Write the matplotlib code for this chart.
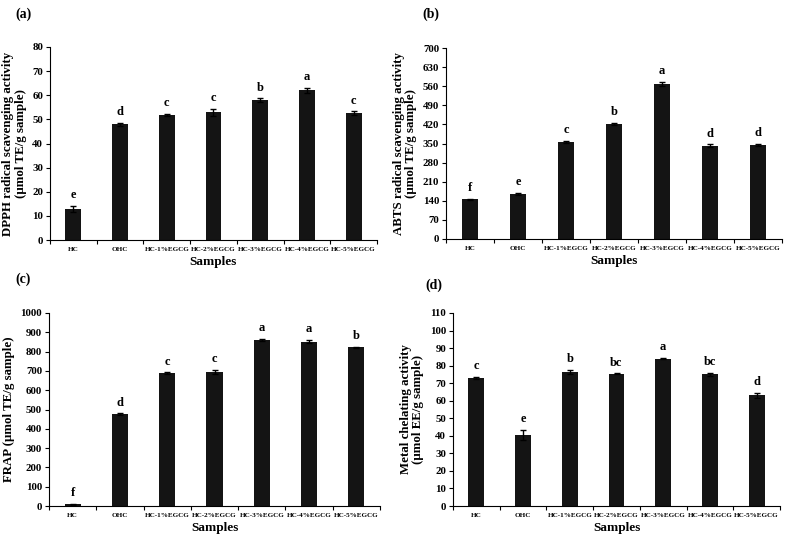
import matplotlib
matplotlib.use("Agg")
import matplotlib.pyplot as plt
import numpy as np

plt.rcParams['font.family'] = ['Liberation Serif', 'DejaVu Serif']
plt.rcParams['font.weight'] = 'bold'

samples = ["HC", "OHC", "HC-1%EGCG", "HC-2%EGCG", "HC-3%EGCG", "HC-4%EGCG", "HC-5%EGCG"]

dpph = [12.8, 48.0, 52.0, 53.0, 58.0, 62.0, 52.5]
dpph_err = [1.2, 0.6, 0.4, 1.5, 0.7, 1.0, 0.8]
dpph_letters = ["e", "d", "c", "c", "b", "a", "c"]

abts = [145, 165, 355, 422, 568, 342, 345]
abts_err = [3, 3, 4, 4, 7, 5, 5]
abts_letters = ["f", "e", "c", "b", "a", "d", "d"]

frap = [8, 476, 688, 693, 860, 852, 822]
frap_err = [2, 4, 4, 10, 7, 7, 3]
frap_letters = ["f", "d", "c", "c", "a", "a", "b"]

metal = [73.0, 40.5, 76.5, 75.3, 84.0, 75.0, 63.0]
metal_err = [0.6, 3.0, 1.0, 0.3, 0.4, 0.7, 1.5]
metal_letters = ["c", "e", "b", "bc", "a", "bc", "d"]

W, H = 787, 537
fig = plt.figure(figsize=(W / 100, H / 100), dpi=100)

def ax_rect(x0, y0, x1, y1):
    return [x0 / W, 1 - y1 / H, (x1 - x0) / W, (y1 - y0) / H]

panels = [
    (ax_rect(50, 47, 377, 240), dpph, dpph_err, dpph_letters, 80, 10,
     "DPPH radical scavenging activity\n(µmol TE/g sample)", "(a)", (15, 14)),
    (ax_rect(446, 48, 782, 239), abts, abts_err, abts_letters, 700, 70,
     "ABTS radical scavenging activity\n(µmol TE/g sample)", "(b)", (422, 14)),
    (ax_rect(49, 313, 380, 506), frap, frap_err, frap_letters, 1000, 100,
     "FRAP (µmol TE/g sample)", "(c)", (15, 279)),
    (ax_rect(453, 313, 780, 506), metal, metal_err, metal_letters, 110, 10,
     "Metal chelating activity\n(µmol EE/g sample)", "(d)", (425, 285)),
]

for rect, vals, errs, letters, ymax, step, ylabel, tag, tagpos in panels:
    ax = fig.add_axes(rect)
    x = np.arange(len(samples))
    ax.bar(x, vals, width=0.34, color="#141414", yerr=errs,
           error_kw=dict(ecolor="black", elinewidth=1.0, capsize=2.5, capthick=1.0))
    for xi, v, e, l in zip(x, vals, errs, letters):
        ax.text(xi, v + e + ymax * 0.025, l, ha="center", va="bottom",
                fontsize=9, fontweight="bold")
    ax.set_xlim(-0.5, len(samples) - 0.5)
    ax.set_ylim(0, ymax)
    ax.set_yticks(np.arange(0, ymax + step / 2, step))
    ax.set_xticks(x)
    ax.set_xticklabels(samples, fontsize=5.1, fontweight="bold")
    ax.set_xticks(np.arange(-0.5, len(samples), 1.0), minor=True)
    ax.tick_params(axis="x", which="major", length=0, pad=5)
    ax.tick_params(axis="x", which="minor", length=3, width=0.8, direction="out")
    ax.tick_params(axis="y", labelsize=7.8, length=3, width=0.8, direction="out", pad=2)
    for lbl in ax.get_yticklabels():
        lbl.set_fontweight("bold")
    for s in ["top", "right"]:
        ax.spines[s].set_visible(False)
    for s in ["left", "bottom"]:
        ax.spines[s].set_linewidth(0.8)
    ax.set_ylabel(ylabel, fontsize=9.3, fontweight="bold", labelpad=4, linespacing=1.05)
    ax.set_xlabel("Samples", fontsize=9.5, fontweight="bold", labelpad=3)
    fig.text(tagpos[0] / W, 1 - tagpos[1] / H, tag, fontsize=10, fontweight="bold",
             ha="left", va="center")

fig.savefig("out.png", dpi=100)
